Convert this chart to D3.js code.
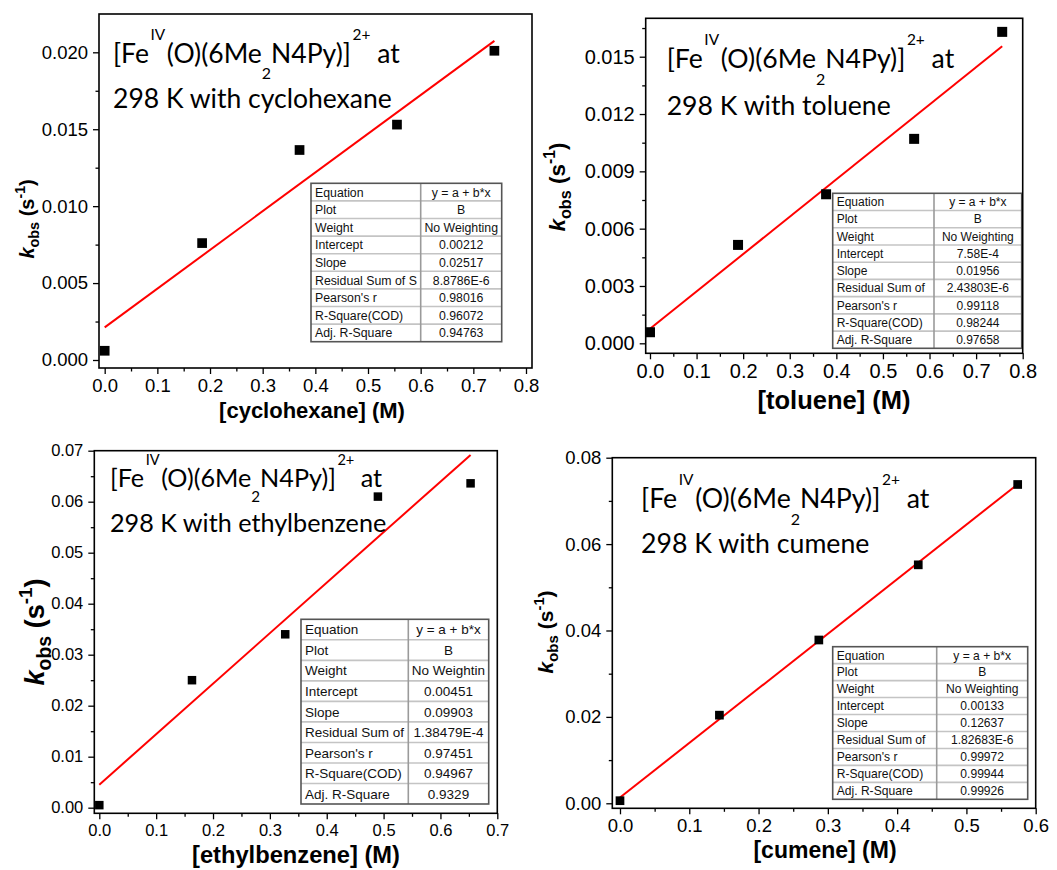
<!DOCTYPE html>
<html><head><meta charset="utf-8">
<script src="https://cdn.jsdelivr.net/npm/d3@7"></script>
<style>body{margin:0;background:#fff} svg{display:block}</style>
</head><body>
<svg id="chart" width="1057" height="870"></svg>
<script>
// ---------- DATA ----------
const cyclohexaneConc = [0, 0.185, 0.37, 0.555, 0.74];
const cyclohexaneK    = [0.0006, 0.0076, 0.01365, 0.0153, 0.0201];
const tolueneConc     = [0, 0.189, 0.378, 0.567, 0.756];
const tolueneK        = [0.00058, 0.00515, 0.0078, 0.0107, 0.0163];
const ethylbenzeneConc = [0, 0.163, 0.327, 0.49, 0.653];
const ethylbenzeneK    = [0.0005, 0.025, 0.034, 0.061, 0.0636];
const cumeneConc = [0, 0.1435, 0.287, 0.4305, 0.574];
const cumeneK    = [0.0006, 0.0204, 0.0378, 0.0552, 0.0738];

const fitIntercepts = [0.00212, 7.58e-4, 0.00451, 0.00133];
const fitSlopes     = [0.02517, 0.01956, 0.09903, 0.12637];

const substrates = ["cyclohexane", "toluene", "ethylbenzene", "cumene"];

const tableLabels = ["Equation","Plot","Weight","Intercept","Slope","Residual Sum of Squares","Pearson's r","R-Square(COD)","Adj. R-Square"];
const cyclohexaneStats  = ["y = a + b*x","B","No Weighting","0.00212","0.02517","8.8786E-6","0.98016","0.96072","0.94763"];
const tolueneStats      = ["y = a + b*x","B","No Weighting","7.58E-4","0.01956","2.43803E-6","0.99118","0.98244","0.97658"];
const ethylbenzeneStats = ["y = a + b*x","B","No Weighting","0.00451","0.09903","1.38479E-4","0.97451","0.94967","0.9329"];
const cumeneStats       = ["y = a + b*x","B","No Weighting","0.00133","0.12637","1.82683E-6","0.99972","0.99944","0.99926"];

const xTicks08 = [0,0.1,0.2,0.3,0.4,0.5,0.6,0.7,0.8];
const xTicks07 = [0,0.1,0.2,0.3,0.4,0.5,0.6,0.7];
const xTicks06 = [0,0.1,0.2,0.3,0.4,0.5,0.6];
const xMinor08 = [0.05,0.15,0.25,0.35,0.45,0.55,0.65,0.75];
const xMinor07 = [0.05,0.15,0.25,0.35,0.45,0.55,0.65];
const xMinor06 = [0.05,0.15,0.25,0.35,0.45,0.55];
const yTicksA = [0,0.005,0.010,0.015,0.020];
const yMinorA = [0.0025,0.0075,0.0125,0.0175];
const yTicksB = [0,0.003,0.006,0.009,0.012,0.015];
const yMinorB = [0.0015,0.0045,0.0075,0.0105,0.0135,0.0165];
const yTicksC = [0,0.01,0.02,0.03,0.04,0.05,0.06,0.07];
const yMinorC = [0.005,0.015,0.025,0.035,0.045,0.055,0.065];
const yTicksD = [0,0.02,0.04,0.06,0.08];
const yMinorD = [0.01,0.03,0.05,0.07];

// ---------- LAYOUT ----------
const layouts = [
  {frame:{l:99,t:14,r:532,b:368}, xDom:[-0.0108,0.8114], yDom:[-0.00052,0.02249],
   xT:xTicks08, xM:xMinor08, yT:yTicksA, yM:yMinorA, xf:".1f", yf:".3f", tickFs:18.5,
   table:{l:311,t:183.3,r:501.7,b:341.7,div:420.7,fs:12.3}, stats:cyclohexaneStats,
   title:{x:113,y1:63,y2:108,w1:287,w2:274},
   ylab:{bx:34,cy:219,fs:20}, xlab:{cx:312,y:418,fs:22}, ms:9.7,
   conc:cyclohexaneConc, k:cyclohexaneK},
  {frame:{l:645.7,t:18.3,r:1022.7,b:353.3}, xDom:[-0.0092,0.8], yDom:[-0.000523,0.01701],
   xT:xTicks08, xM:xMinor08, yT:yTicksB, yM:yMinorB, xf:".1f", yf:".3f", tickFs:20,
   table:{l:832.7,t:193.3,r:1021.7,b:348.3,div:934,fs:12}, stats:tolueneStats,
   title:{x:666.7,y1:68.3,y2:115,w1:288,w2:220},
   ylab:{bx:565,cy:187,fs:22.5}, xlab:{cx:834,y:409,fs:25.5}, ms:10,
   conc:tolueneConc, k:tolueneK},
  {frame:{l:94.3,t:450.7,r:497.3,b:813.3}, xDom:[-0.0088,0.7], yDom:[-0.0011,0.07],
   xT:xTicks07, xM:xMinor07, yT:yTicksC, yM:yMinorC, xf:".1f", yf:".2f", tickFs:16.5,
   table:{l:301,t:619.3,r:488.7,b:804,div:408.3,fs:13.5}, stats:ethylbenzeneStats,
   title:{x:110,y1:486.7,y2:531.7,w1:271,w2:273},
   ylab:{bx:44,cy:632,fs:27}, xlab:{cx:296,y:863,fs:23.7}, ms:8.5,
   conc:ethylbenzeneConc, k:ethylbenzeneK},
  {frame:{l:612.3,t:457.7,r:1035.7,b:808.3}, xDom:[-0.0111,0.6], yDom:[-0.00116,0.08],
   xT:xTicks06, xM:xMinor06, yT:yTicksD, yM:yMinorD, xf:".1f", yf:".2f", tickFs:18.5,
   table:{l:832.7,t:646.7,r:1027.7,b:799.3,div:936.7,fs:12.1}, stats:cumeneStats,
   title:{x:641,y1:508.3,y2:553.3,w1:288,w2:225},
   ylab:{bx:553,cy:632,fs:21}, xlab:{cx:825,y:858,fs:23}, ms:8.7,
   conc:cumeneConc, k:cumeneK}
];

const svg = d3.select("#chart");
const AX = "'Liberation Sans', Arial, sans-serif";
const TF = "Lato, 'Open Sans', sans-serif";

layouts.forEach((L, i) => {
  const f = L.frame;
  const g = svg.append("g");
  const x = d3.scaleLinear().domain(L.xDom).range([f.l, f.r]);
  const y = d3.scaleLinear().domain(L.yDom).range([f.b, f.t]);

  // fit line
  const a = fitIntercepts[i], b = fitSlopes[i];
  const xMax = d3.max(L.conc);
  g.append("line")
    .attr("x1", x(0)).attr("y1", y(a))
    .attr("x2", x(xMax)).attr("y2", y(a + b * xMax))
    .attr("stroke", "#ff0000").attr("stroke-width", 2);

  // points
  g.selectAll("rect.pt").data(d3.zip(L.conc, L.k)).join("rect")
    .attr("class","pt")
    .attr("x", d => x(d[0]) - L.ms/2).attr("y", d => y(d[1]) - L.ms/2)
    .attr("width", L.ms).attr("height", L.ms).attr("fill", "#000");

  // title
  const tg = g.append("g");
  const t1 = tg.append("text").attr("x", L.title.x).attr("y", L.title.y1)
    .attr("font-family", TF).attr("fill", "#000");
  const t2 = tg.append("text").attr("x", L.title.x).attr("y", L.title.y2)
    .attr("font-family", TF).attr("fill", "#000").text("298 K with " + substrates[i]);
  function setTitle(fs) {
    t1.selectAll("*").remove();
    t1.attr("font-size", fs);
    t1.append("tspan").text("[Fe");
    t1.append("tspan").attr("font-size", fs*0.58).attr("dy", -fs*0.88).attr("dx", fs*0.06).text("IV");
    t1.append("tspan").attr("font-size", fs).attr("dy", fs*0.88).attr("dx", fs*0.06).text("(O)(6Me");
    t1.append("tspan").attr("font-size", fs*0.6).attr("dy", fs*0.62).text("2");
    t1.append("tspan").attr("font-size", fs).attr("dy", -fs*0.62).text("N4Py)]");
    t1.append("tspan").attr("font-size", fs*0.58).attr("dy", -fs*0.88).attr("dx", fs*0.06).text("2+");
    t1.append("tspan").attr("font-size", fs).attr("dy", fs*0.88).text("\u00a0at");
    t2.attr("font-size", fs);
  }
  setTitle(28);
  const s1 = L.title.w1 / t1.node().getComputedTextLength();
  const s2 = L.title.w2 / t2.node().getComputedTextLength();
  setTitle(28 * (s1 + s2) / 2);

  // table
  const T = L.table;
  const rh = (T.b - T.t) / tableLabels.length;
  const tb = g.append("g");
  tb.append("rect").attr("x", T.l).attr("y", T.t).attr("width", T.r - T.l).attr("height", T.b - T.t)
    .attr("fill", "#fff");
  for (let r = 1; r < tableLabels.length; r++) {
    tb.append("line").attr("x1", T.l).attr("x2", T.r)
      .attr("y1", T.t + r*rh).attr("y2", T.t + r*rh)
      .attr("stroke", "#c4c4c4").attr("stroke-width", 1.6);
  }
  tb.append("line").attr("x1", T.div).attr("x2", T.div).attr("y1", T.t).attr("y2", T.b)
    .attr("stroke", "#9a9a9a").attr("stroke-width", 1.6);
  tb.append("rect").attr("x", T.l).attr("y", T.t).attr("width", T.r - T.l).attr("height", T.b - T.t)
    .attr("fill", "none").attr("stroke", "#555").attr("stroke-width", 1.6);
  const pad = 3;
  function fitText(el, str, w) {
    el.text(str);
    let s = str;
    while (s.length > 1 && el.node().getComputedTextLength() + 2*pad > w) {
      s = s.slice(0, -1);
      el.text(s);
    }
  }
  tableLabels.forEach((lab, r) => {
    const yb = T.t + r*rh + rh/2 + T.fs*0.36;
    const e1 = tb.append("text").attr("x", T.l + pad + 1).attr("y", yb)
      .attr("font-family", AX).attr("font-size", T.fs).attr("fill", "#111");
    fitText(e1, lab, T.div - T.l);
    const e2 = tb.append("text").attr("x", (T.div + T.r)/2).attr("y", yb)
      .attr("text-anchor", "middle")
      .attr("font-family", AX).attr("font-size", T.fs).attr("fill", "#111");
    fitText(e2, L.stats[r], T.r - T.div);
  });

  // axes
  const xAxis = g.append("g").attr("transform", `translate(0,${f.b})`)
    .call(d3.axisBottom(x).tickValues(L.xT).tickSize(6).tickPadding(5).tickFormat(d3.format(L.xf)));
  const xMin = g.append("g").attr("transform", `translate(0,${f.b})`)
    .call(d3.axisBottom(x).tickValues(L.xM).tickSize(3.5).tickFormat(""));
  const yAxis = g.append("g").attr("transform", `translate(${f.l},0)`)
    .call(d3.axisLeft(y).tickValues(L.yT).tickSize(6).tickPadding(5).tickFormat(d3.format(L.yf)));
  const yMin = g.append("g").attr("transform", `translate(${f.l},0)`)
    .call(d3.axisLeft(y).tickValues(L.yM).tickSize(3.5).tickFormat(""));
  [xAxis, xMin, yAxis, yMin].forEach(ax => {
    ax.select(".domain").remove();
    ax.selectAll(".tick line").attr("stroke", "#000").attr("stroke-width", 1.3);
    ax.selectAll(".tick text").attr("font-family", AX).attr("font-size", L.tickFs).attr("fill", "#000");
  });

  // frame
  g.append("rect").attr("x", f.l).attr("y", f.t).attr("width", f.r - f.l).attr("height", f.b - f.t)
    .attr("fill", "none").attr("stroke", "#000").attr("stroke-width", 1.6);

  // x label
  g.append("text").attr("x", L.xlab.cx).attr("y", L.xlab.y).attr("text-anchor", "middle")
    .attr("font-family", AX).attr("font-weight", "bold").attr("font-size", L.xlab.fs)
    .text("[" + substrates[i] + "] (M)");

  // y label
  const yl = g.append("text").attr("transform", `translate(${L.ylab.bx},${L.ylab.cy}) rotate(-90)`)
    .attr("text-anchor", "middle")
    .attr("font-family", AX).attr("font-weight", "bold").attr("font-size", L.ylab.fs);
  const fs = L.ylab.fs;
  yl.append("tspan").attr("font-style", "italic").text("k");
  yl.append("tspan").attr("font-size", fs*0.72).attr("dy", fs*0.25).text("obs");
  yl.append("tspan").attr("font-size", fs).attr("dy", -fs*0.25).text(" (s");
  yl.append("tspan").attr("font-size", fs*0.7).attr("dy", -fs*0.45).text("-1");
  yl.append("tspan").attr("font-size", fs).attr("dy", fs*0.45).text(")");
});
</script>
</body></html>
